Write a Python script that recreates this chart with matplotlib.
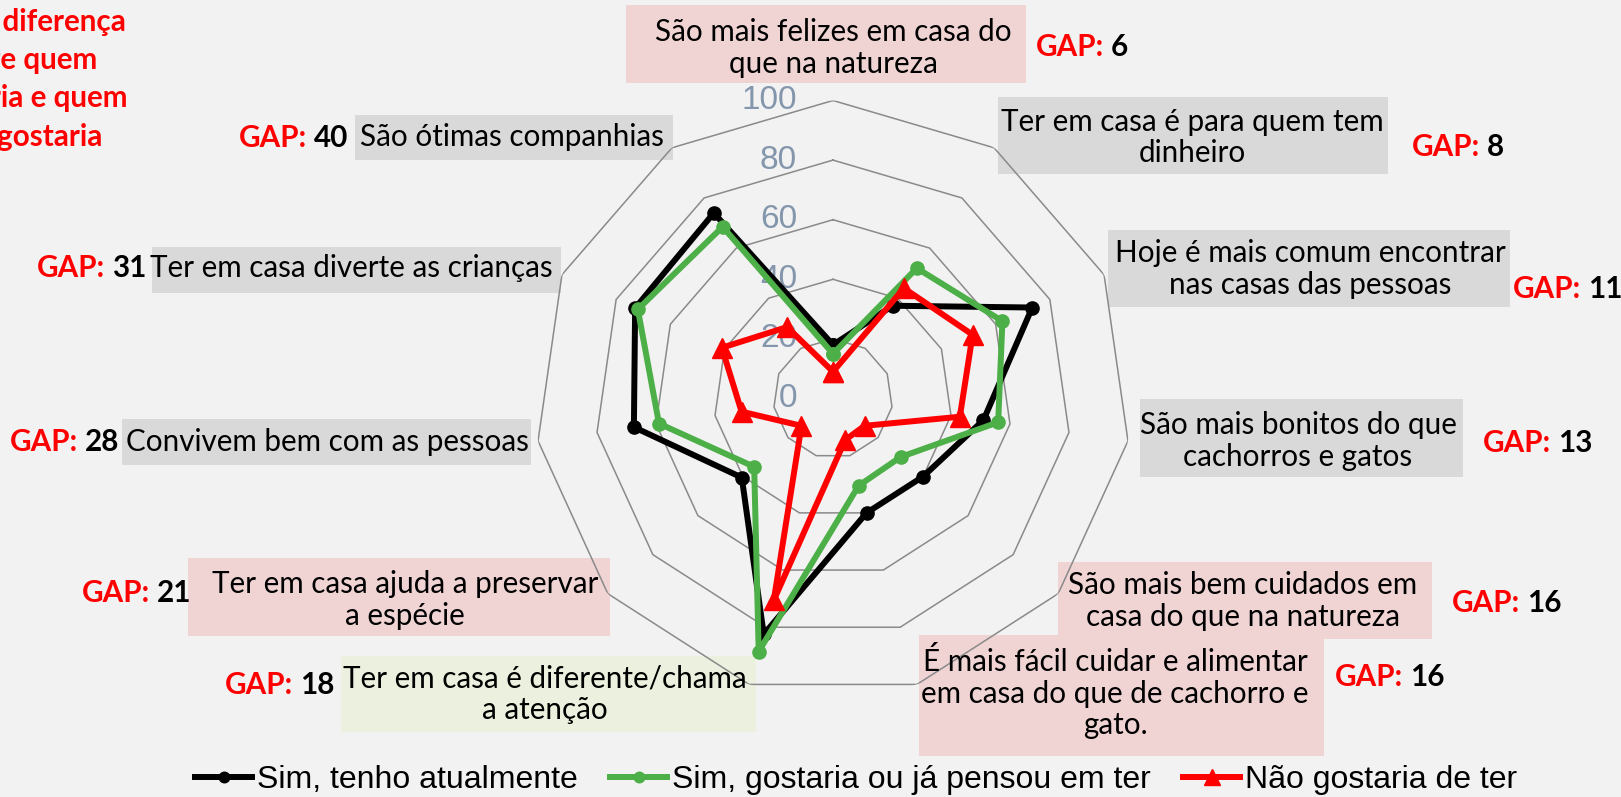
import numpy as np
import matplotlib
matplotlib.use("Agg")
import matplotlib.pyplot as plt
from matplotlib.patches import Rectangle

# dados do gráfico radar
categorias = [
    "São mais felizes em casa do\nque na natureza",
    "Ter em casa é para quem tem\ndinheiro",
    "Hoje é mais comum encontrar\nnas casas das pessoas",
    "São mais bonitos do que\ncachorros e gatos",
    "São mais bem cuidados em\ncasa do que na natureza",
    "É mais fácil cuidar e alimentar\nem casa do que de cachorro e\ngato.",
    "Ter em casa é diferente/chama\na atenção",
    "Ter em casa ajuda a preservar\na espécie",
    "Convivem bem com as pessoas",
    "Ter em casa diverte as crianças",
    "São ótimas companhias",
]
tenho = [18, 37, 73.5, 51, 40, 40, 82.5, 40.5, 67.5, 73, 74]
gostaria = [15, 52, 62.5, 56, 30, 30.5, 88.5, 35, 59, 72, 68.5]
nao_gostaria = [9, 44, 51.5, 43, 14, 14.5, 70.5, 14, 31, 41, 28.5]
gaps = [6, 8, 11, 13, 16, 16, 18, 21, 28, 31, 40]
anel = [0, 20, 40, 60, 80, 100]
nomes = ["Sim, tenho atualmente", "Sim, gostaria ou já pensou em ter", "Não gostaria de ter"]
titulo = ["GAP: diferença", "entre quem", "gostaria e quem", "não gostaria"]

W, H = 1621, 797
fonte = "Lato"
fs = 21.3
fig = plt.figure(figsize=(W / 100, H / 100), dpi=100, facecolor="#F2F2F2")

def fx(x):
    return x / W

def fy(y):
    return 1 - y / H

# eixo polar: centro (833, 398.5), raio 298 px
cx, cy, R = 833, 398.5, 298
ax = fig.add_axes([fx(cx - R), fy(cy + R), 2 * R / W, 2 * R / H], projection="polar")
ax.set_theta_zero_location("N")
ax.set_theta_direction(-1)
ax.set_ylim(0, 100)
ax.axis("off")

n = len(categorias)
ang = np.linspace(0, 2 * np.pi, n, endpoint=False)
ang_f = np.append(ang, ang[0])

# aneis poligonais
for v in anel[1:]:
    ax.plot(ang_f, [v] * (n + 1), color="#8A8A8A", lw=1.1, zorder=1)
for v in anel:
    ax.annotate(str(v), xy=(0, v), xytext=(-26, 0), textcoords="offset points",
                ha="right", va="center", fontsize=24, color="#8496AC",
                family="Liberation Sans", zorder=2)

def fecha(v):
    return list(v) + [v[0]]

l1, = ax.plot(ang_f, fecha(tenho), color="black", lw=4.3, marker="o", ms=9.5, zorder=3, clip_on=False)
l2, = ax.plot(ang_f, fecha(gostaria), color="#4DAF47", lw=4.3, marker="o", ms=9.5, zorder=4, clip_on=False)
l3, = ax.plot(ang_f, fecha(nao_gostaria), color="#FF0000", lw=4.3, marker="^", ms=15, zorder=5, clip_on=False)

# caixas dos rótulos (x0, x1, y0, y1 em px) e centro do texto
cinza, rosa, verde = "#D9D9D9", "#F0D4D4", "#EBF1DE"
caixas = [
    (626, 1026, 5, 83, 833, 48, rosa),
    (998, 1388, 97, 174, 1192, 137.5, cinza),
    (1108, 1510, 230, 307, 1310, 269, cinza),
    (1140, 1463, 399, 477, 1298, 441, cinza),
    (1058, 1432, 562, 639, 1243, 601, rosa),
    (919, 1324, 635, 756, 1115, 693, rosa),
    (341, 756, 656, 732, 545, 694.5, verde),
    (188, 610, 558, 636, 405, 600, rosa),
    (122, 531, 419, 465, 327, 442, cinza),
    (152, 561, 247, 293, 351, 268, cinza),
    (355, 673, 115, 160, 512, 137, cinza),
]
gap_pos = [(1036, 47), (1412, 147), (1513, 289), (1483, 443), (1452, 603), (1335, 677),
           (225, 685), (82, 593), (10, 442), (37, 268), (239, 138)]

for i, (x0, x1, y0, y1, tx, ty, cor) in enumerate(caixas):
    fig.add_artist(Rectangle((fx(x0), fy(y1)), fx(x1) - fx(x0), fy(y0) - fy(y1),
                             transform=fig.transFigure, facecolor=cor, edgecolor="none", zorder=-1))
    fig.text(fx(tx), fy(ty), categorias[i], ha="center", va="center", multialignment="center",
             fontsize=fs, family=fonte, linespacing=1.15, zorder=6)
    gx, gy = gap_pos[i]
    t = fig.text(fx(gx), fy(gy), "GAP:", ha="left", va="center", fontsize=fs,
                 family=fonte, weight="bold", color="red", zorder=6)
    ax.annotate(str(gaps[i]), xy=(1, 0.5), xycoords=t, xytext=(5, 0), textcoords="offset points",
                ha="left", va="center", fontsize=fs, family=fonte, weight="bold",
                color="black", annotation_clip=False, zorder=6)

# título cortado à esquerda, como na figura original
for txt, xe, ye in zip(titulo, [126, 97, 127, 102], [22, 60, 98, 137]):
    fig.text(fx(xe), fy(ye), txt, ha="right", va="center", fontsize=fs,
             family=fonte, weight="bold", color="red")

fig.legend([l1, l2, l3], nomes, loc="center", bbox_to_anchor=(fx(856), fy(780)), ncol=3,
           frameon=False, prop={"family": "Liberation Sans", "size": 23},
           handlelength=1.8, handletextpad=0.15, columnspacing=1.0, markerscale=0.8)

fig.savefig("out.png", dpi=100, facecolor=fig.get_facecolor())
